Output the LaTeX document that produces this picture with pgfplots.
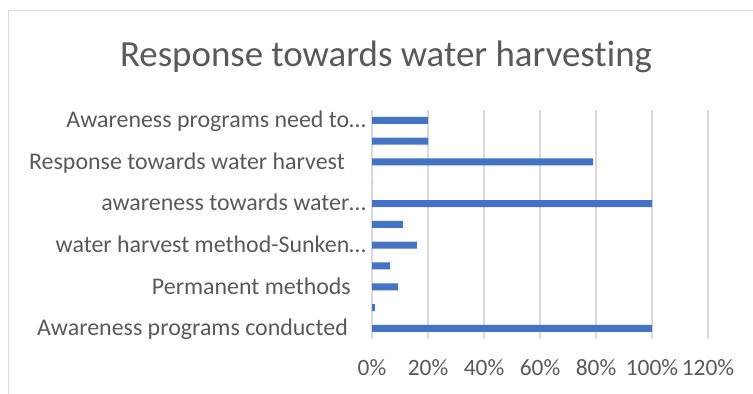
\documentclass[border=0pt]{standalone}
\usepackage{fontspec}
\setmainfont[Ligatures=NoCommon]{Carlito}
\usepackage{pgfplots}
\pgfplotsset{compat=1.18}
\definecolor{barblue}{HTML}{4472C4}
\definecolor{gridgray}{HTML}{D9D9D9}
\definecolor{textgray}{HTML}{595959}
\newcommand{\pad}[1]{\rule{#1}{0pt}}
\begin{document}
\begin{tikzpicture}
\useasboundingbox (0,0) rectangle (753bp,394bp);
% chart frame (left and top edges)
\draw[gridgray, line width=1bp] (8bp,0) -- (8bp,383bp) -- (753bp,383bp);
\node[anchor=base, text=textgray, font=\fontsize{37}{42}\selectfont, inner sep=0pt]
  at (386bp,327bp) {Response towards water harvesting};
\begin{axis}[
  at={(372bp,55.2bp)}, anchor=south west,
  scale only axis, width=336bp, height=228.8bp,
  xbar, bar width=7bp,
  xmin=0, xmax=120, ymin=0.5, ymax=11.5,
  xtick={0,20,...,120},
  xticklabels={0\%,20\%,40\%,60\%,80\%,100\%,120\%},
  ytick={1,3,5,7,9,11},
  yticklabels={Awareness programs conducted\pad{18bp},
    Permanent methods\pad{15bp},
    water harvest method-Sunken…,
    awareness towards water…,
    Response towards water harvest\pad{21bp},
    Awareness programs need to…},
  axis line style={draw=none},
  major tick length=0pt,
  xmajorgrids, grid style={gridgray, line width=1.5bp},
  yticklabel style={text=textgray, font=\fontsize{24}{28}\selectfont,
    anchor=base east, inner sep=0pt, xshift=-6bp, yshift=-7.3bp},
  xticklabel style={text=textgray, font=\fontsize{23.5}{28}\selectfont,
    anchor=base, inner sep=0pt, yshift=-37bp},
  clip=false,
]
\addplot[fill=barblue, draw=none] coordinates {
  (100,1) (1,2) (9.3,3) (6.5,4) (16,5) (11,6)
  (100,7) (0,8) (79,9) (20,10) (20,11)};
\end{axis}
\end{tikzpicture}
\end{document}
